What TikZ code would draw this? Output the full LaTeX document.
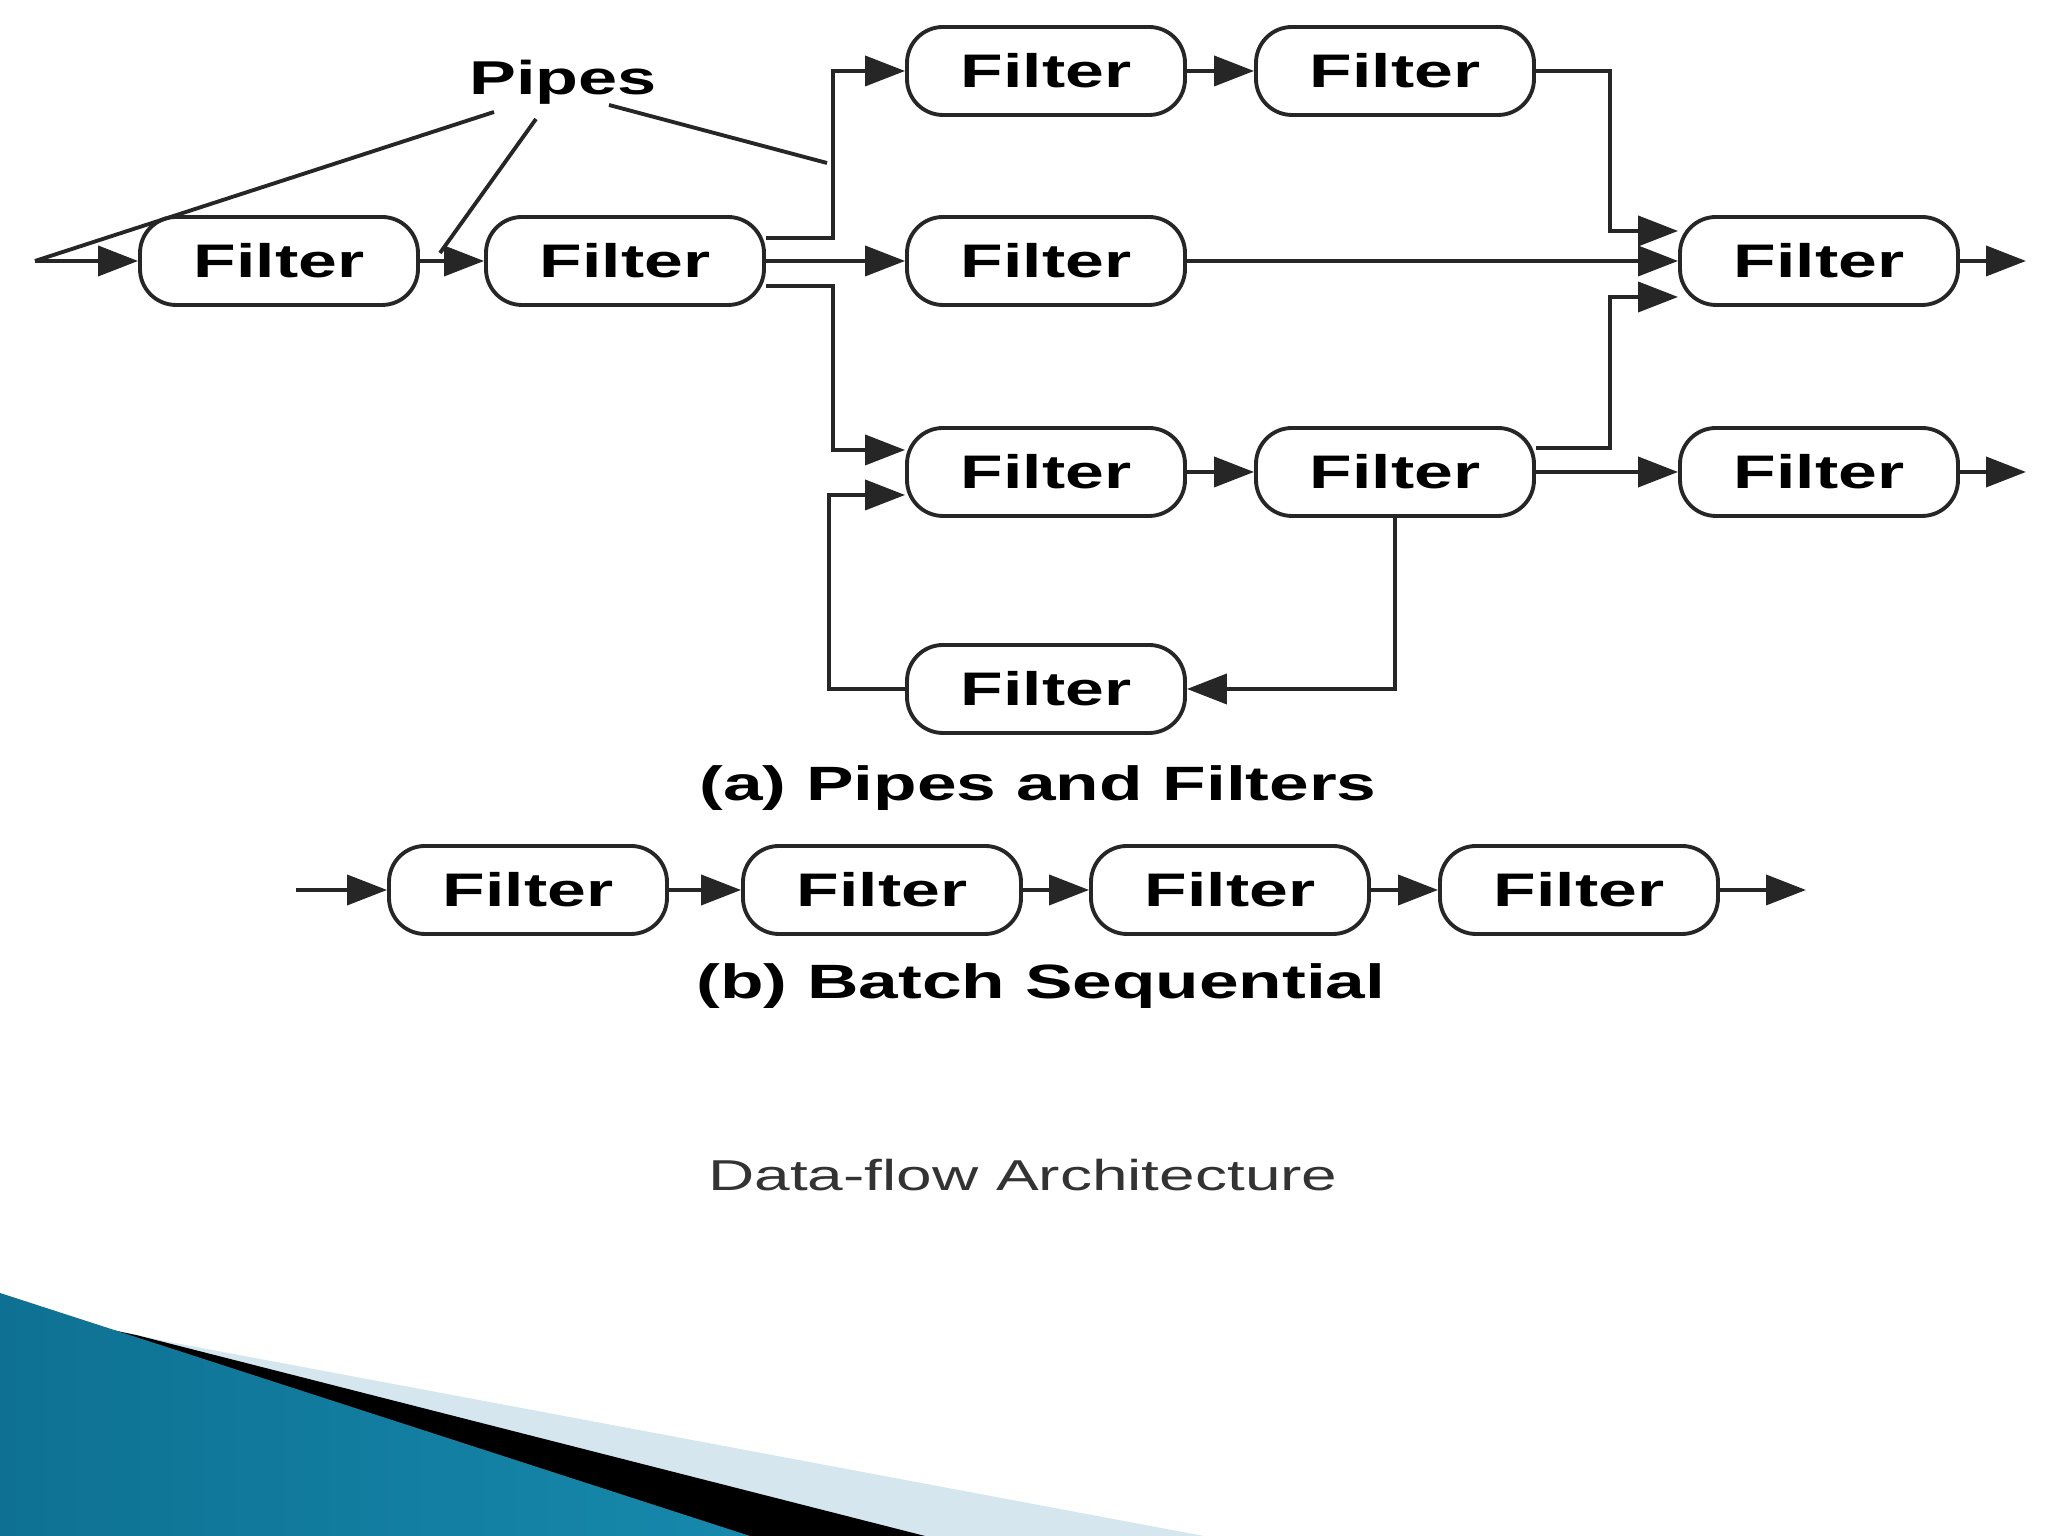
\documentclass[tikz,border=0pt]{standalone}
\usepackage{fontspec}
\usepackage{xcolor}
\usepackage{tikz}
\usetikzlibrary{arrows.meta,calc}
\newfontfamily\figfont[FakeStretch=1.48]{Liberation Sans}
\definecolor{swooshblue}{HTML}{1689AC}
\definecolor{swooshdark}{HTML}{0E7193}
\definecolor{swooshlight}{HTML}{55B8D8}
\definecolor{swooshpale}{HTML}{D5E6EF}

\begin{document}
\begin{tikzpicture}[line width=1.1pt,
  filter/.style={draw=black!85,rounded corners=0.36cm,minimum width=2.78cm,minimum height=0.88cm,inner sep=0pt,
    font=\figfont\bfseries\fontsize{13.4}{15}\selectfont},
  pipe/.style={draw=black!85,-{Triangle[length=4mm,width=3mm]}},
  caption/.style={anchor=base,font=\figfont\bfseries\fontsize{13.7}{16}\selectfont}]
\useasboundingbox (0,0) rectangle (20.48,15.36);
%
% corner swoosh
\fill[swooshpale] (1.12,2.06) -- (1.75,1.93) -- (12.04,0) -- (0,0) -- cycle;
\fill[black] (1.12,2.06) -- (1.36,2.01) -- (9.25,0) -- (0,0) -- cycle;
\shade[left color=swooshdark,middle color=swooshlight,right color=swooshblue] (0,2.43) -- (7.5,0) -- (0,0) -- cycle;
%
% (a) pipes and filters
\node[filter] (f1) at (2.79,12.75) {Filter};
\node[filter] (f2) at (6.25,12.75) {Filter};
\node[filter] (f3) at (10.46,14.65) {Filter};
\node[filter] (f4) at (13.95,14.65) {Filter};
\node[filter] (f5) at (10.46,12.75) {Filter};
\node[filter] (f6) at (18.19,12.75) {Filter};
\node[filter] (f7) at (10.46,10.64) {Filter};
\node[filter] (f8) at (13.95,10.64) {Filter};
\node[filter] (f9) at (18.19,10.64) {Filter};
\node[filter] (f10) at (10.46,8.47) {Filter};
\coordinate (in) at (0.35,12.75);
\coordinate (out6) at (20.26,12.75);
\coordinate (out9) at (20.26,10.64);
%
\draw[pipe] (in) -- (f1);
\draw[pipe] (f1) -- (f2);
\draw[pipe] ($(f2.east)+(0,0.23)$) -- ++(0.67,0) |- (f3);
\draw[pipe] (f2) -- (f5);
\draw[pipe] ($(f2.east)+(0,-0.25)$) -- ++(0.67,0) |- ($(f7.west)+(0,0.22)$);
\draw[pipe] (f10.west) -- ++(-0.76,0) |- ($(f7.west)+(0,-0.23)$);
\draw[pipe] (f3) -- (f4);
\draw[pipe] (f4.east) -- ++(0.74,0) |- ($(f6.west)+(0,0.30)$);
\draw[pipe] (f5) -- (f6);
\draw[pipe] ($(f8.east)+(0,0.24)$) -- ++(0.74,0) |- ($(f6.west)+(0,-0.36)$);
\draw[pipe] (f7) -- (f8);
\draw[pipe] (f8) -- (f9);
\draw[pipe] (f8.south) |- (f10);
\draw[pipe] (f6) -- (out6);
\draw[pipe] (f9) -- (out9);
%
% pipes label
\node[anchor=base,inner sep=0pt,font=\figfont\bfseries\fontsize{13.5}{16}\selectfont] (pipes) at (5.63,14.41) {Pipes};
\coordinate (t1) at (4.94,14.24);
\coordinate (t2) at (5.36,14.17);
\coordinate (t3) at (6.09,14.31);
\coordinate (p2) at (4.40,12.83);
\coordinate (p3) at (8.27,13.73);
\draw[black!85] (t1) -- (in);
\draw[black!85] (t2) -- (p2);
\draw[black!85] (t3) -- (p3);
%
\node[caption] (capa) at (10.38,7.35) {(a) Pipes and Filters};
%
% (b) batch sequential
\node[filter] (b1) at (5.28,6.46) {Filter};
\node[filter] (b2) at (8.82,6.46) {Filter};
\node[filter] (b3) at (12.30,6.46) {Filter};
\node[filter] (b4) at (15.79,6.46) {Filter};
\coordinate (bin) at (2.96,6.46);
\coordinate (bout) at (18.06,6.46);
\draw[pipe] (bin) -- (b1);
\draw[pipe] (b1) -- (b2);
\draw[pipe] (b2) -- (b3);
\draw[pipe] (b3) -- (b4);
\draw[pipe] (b4) -- (bout);
\node[caption] (capb) at (10.41,5.37) {(b) Batch Sequential};
%
\node[anchor=base,text=black!80,font=\figfont\fontsize{12.3}{14}\selectfont] (title) at (10.23,3.45) {Data-flow Architecture};
%
\end{tikzpicture}
\end{document}
